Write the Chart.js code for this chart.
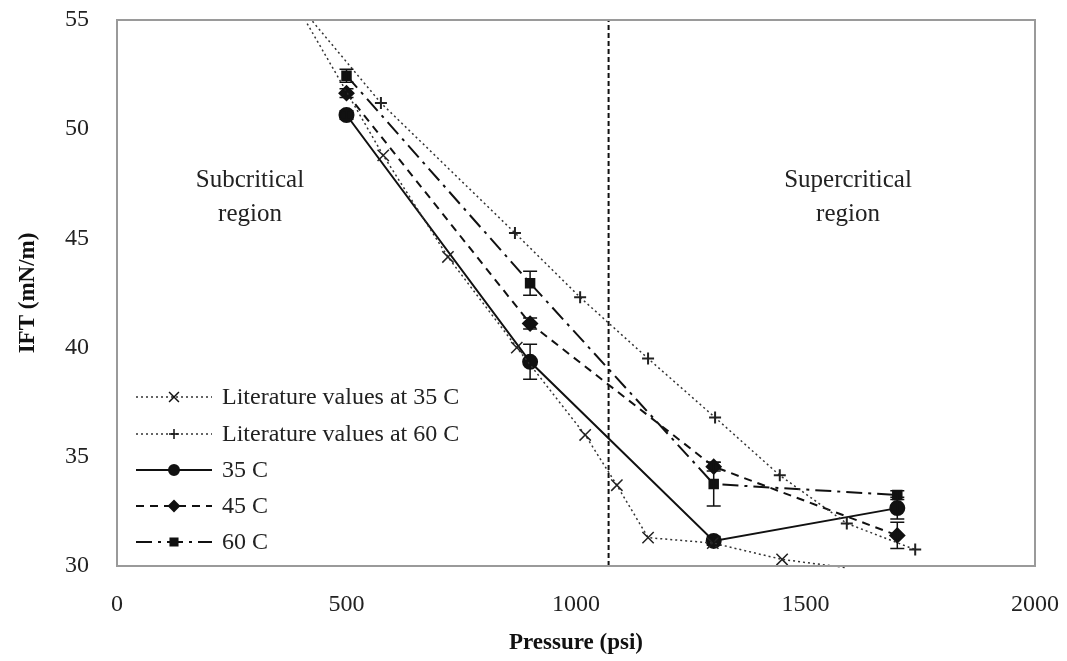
<!DOCTYPE html>
<html>
<head>
<meta charset="utf-8">
<script src="https://cdn.jsdelivr.net/npm/chart.js@4.4.1/dist/chart.umd.min.js"></script>
<style>
  html, body { margin: 0; padding: 0; background: #fff; }
  #wrap { width: 1067px; height: 661px; }
</style>
</head>
<body>
<div id="wrap"><canvas id="myChart"></canvas></div>
<script>
// pressure (psi) and IFT (mN/m)
const pressure = [500, 900, 1300, 1700];
const ift35 = [50.65, 39.35, 31.15, 32.65];
const ift45 = [51.65, 41.1, 34.55, 31.4];
const ift60 = [52.45, 42.95, 33.75, 33.25];
const err35 = [0.2, 0.8, 0.2, 0.5];
const err45 = [0.2, 0.25, 0.2, 0.6];
const err60 = [0.3, 0.55, 1.0, 0.2];

const lit35P = [300, 580, 721, 871, 1020, 1089, 1157, 1298, 1449, 1590];
const lit35V = [59.0, 48.8, 44.15, 40.0, 36.0, 33.7, 31.3, 31.05, 30.3, 29.92];
const lit60P = [300, 575, 867, 1009, 1157, 1303, 1444, 1590, 1739];
const lit60V = [58.1, 51.2, 45.25, 42.3, 39.5, 36.8, 34.15, 31.95, 30.75];

const criticalP = 1071;
const xTicks = [0, 500, 1000, 1500, 2000];
const yTicks = [30, 35, 40, 45, 50, 55];

const serif = '"Liberation Serif", "DejaVu Serif", serif';

function pts(xs, ys) {
  return xs.map((x, i) => ({x: x, y: ys[i]}));
}
const hideOutside = (r) => (ctx) => (ctx.raw && (ctx.raw.y > 55 || ctx.raw.y < 30)) ? 0 : r;

const data = {
  datasets: [
    {
      label: 'Literature values at 35 C',
      data: pts(lit35P, lit35V),
      borderColor: '#333', borderWidth: 1.5, borderDash: [2, 3],
      pointStyle: 'crossRot', pointRadius: hideOutside(8), pointBorderWidth: 1.5,
      pointBorderColor: '#222', pointBackgroundColor: '#222'
    },
    {
      label: 'Literature values at 60 C',
      data: pts(lit60P, lit60V),
      borderColor: '#333', borderWidth: 1.5, borderDash: [2, 3],
      pointStyle: 'cross', pointRadius: hideOutside(6), pointBorderWidth: 2,
      pointBorderColor: '#222', pointBackgroundColor: '#222'
    },
    {
      label: '35 C',
      data: pts(pressure, ift35), err: err35,
      borderColor: '#111', borderWidth: 2,
      pointStyle: 'circle', pointRadius: 7,
      pointBorderColor: '#111', pointBackgroundColor: '#111'
    },
    {
      label: '45 C',
      data: pts(pressure, ift45), err: err45,
      borderColor: '#111', borderWidth: 2, borderDash: [8, 6],
      pointStyle: 'rectRot', pointRadius: 7,
      pointBorderColor: '#111', pointBackgroundColor: '#111'
    },
    {
      label: '60 C',
      data: pts(pressure, ift60), err: err60,
      borderColor: '#111', borderWidth: 2, borderDash: [16, 6, 3, 6],
      pointStyle: 'rect', pointRadius: 6,
      pointBorderColor: '#111', pointBackgroundColor: '#111'
    }
  ]
};

// frame, critical line, region labels, error bars and legend
const extras = {
  id: 'extras',
  beforeDatasetsDraw(chart) {
    const {ctx, chartArea: a, scales: {x, y}} = chart;
    ctx.save();
    ctx.strokeStyle = '#111';
    ctx.lineWidth = 2;
    ctx.setLineDash([5, 3]);
    const cx = x.getPixelForValue(criticalP);
    ctx.beginPath();
    ctx.moveTo(cx, a.bottom);
    ctx.lineTo(cx, a.top);
    ctx.stroke();
    ctx.setLineDash([]);

    ctx.fillStyle = '#222';
    ctx.font = '25px ' + serif;
    ctx.textAlign = 'center';
    ctx.textBaseline = 'middle';
    ctx.fillText('Subcritical', 250, 180);
    ctx.fillText('region', 250, 214);
    ctx.fillText('Supercritical', 848, 180);
    ctx.fillText('region', 848, 214);
    ctx.restore();
  },
  afterDatasetsDraw(chart) {
    const {ctx, chartArea: a, scales: {x, y}} = chart;
    ctx.save();
    // error bars
    ctx.strokeStyle = '#111';
    ctx.lineWidth = 1.5;
    chart.data.datasets.forEach(ds => {
      if (!ds.err) return;
      ds.data.forEach((p, i) => {
        const px = x.getPixelForValue(p.x);
        const top = y.getPixelForValue(p.y + ds.err[i]);
        const bot = y.getPixelForValue(p.y - ds.err[i]);
        ctx.beginPath();
        ctx.moveTo(px, top); ctx.lineTo(px, bot);
        ctx.moveTo(px - 7, top); ctx.lineTo(px + 7, top);
        ctx.moveTo(px - 7, bot); ctx.lineTo(px + 7, bot);
        ctx.stroke();
      });
    });

    // frame
    ctx.strokeStyle = '#9a9a9a';
    ctx.lineWidth = 2;
    ctx.strokeRect(a.left, a.top, a.right - a.left, a.bottom - a.top);

    // legend inside plot, bottom left
    const rows = [397, 434, 470, 506, 542];
    ctx.font = '24px ' + serif;
    ctx.textAlign = 'left';
    ctx.textBaseline = 'middle';
    chart.data.datasets.forEach((ds, i) => {
      const ly = rows[i];
      ctx.strokeStyle = ds.borderColor;
      ctx.lineWidth = ds.borderWidth;
      ctx.setLineDash(ds.borderDash || []);
      ctx.beginPath();
      ctx.moveTo(136, ly);
      ctx.lineTo(212, ly);
      ctx.stroke();
      ctx.setLineDash([]);
      ctx.fillStyle = '#111';
      ctx.strokeStyle = '#111';
      Chart.helpers.drawPoint(ctx, {
        pointStyle: ds.pointStyle, rotation: 0,
        radius: i === 0 ? 7 : 5, borderWidth: 1.5
      }, 174, ly);
      ctx.fillStyle = '#222';
      ctx.fillText(ds.label, 222, ly + 1);
    });
    ctx.restore();
  }
};

const tickFont = {family: serif, size: 24};
const titleFont = {family: serif, size: 23, weight: 'bold'};

const myChart = new Chart(document.getElementById('myChart'), {
  type: 'scatter',
  data: data,
  plugins: [extras],
  options: {
    responsive: true,
    maintainAspectRatio: false,
    animation: false,
    showLine: true,
    layout: {padding: {top: 20, right: 32, left: 0, bottom: 0}},
    plugins: {
      legend: {display: false},
      tooltip: {enabled: false}
    },
    elements: {line: {tension: 0, fill: false}},
    datasets: {scatter: {clip: {left: 0, top: 0, right: 0, bottom: 4}}},
    scales: {
      x: {
        type: 'linear', min: 0, max: 2000,
        afterBuildTicks: (s) => { s.ticks = xTicks.map(v => ({value: v})); },
        afterFit: (s) => { s.height = 95; s.paddingLeft = 0; s.paddingRight = 0; },
        grid: {display: false, drawTicks: false},
        border: {display: false},
        ticks: {font: tickFont, color: '#222', padding: 24, maxRotation: 0, callback: (v) => String(v)},
        title: {display: true, text: 'Pressure (psi)', font: titleFont, color: '#111', padding: {top: 8}}
      },
      y: {
        type: 'linear', min: 30, max: 55,
        afterBuildTicks: (s) => { s.ticks = yTicks.map(v => ({value: v})); },
        afterFit: (s) => { s.width = 117; s.paddingTop = 0; s.paddingBottom = 0; },
        grid: {display: false, drawTicks: false},
        border: {display: false},
        ticks: {font: tickFont, color: '#222', padding: 28, callback: (v) => String(v)},
        title: {display: true, text: 'IFT (mN/m)', font: titleFont, color: '#111', padding: {top: 14}}
      }
    }
  }
});
</script>
</body>
</html>
